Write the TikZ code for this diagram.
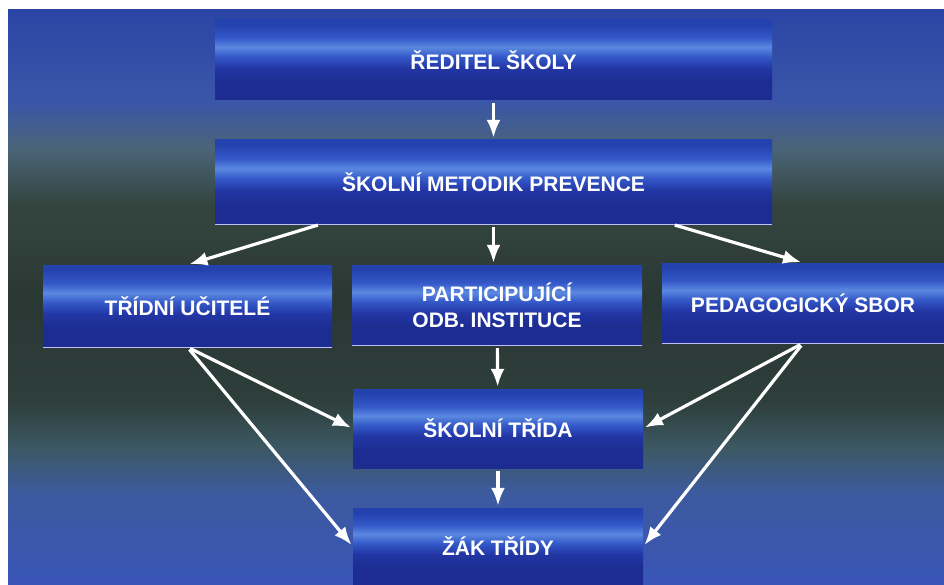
\documentclass[tikz,border=0pt]{standalone}
\usepackage{fontspec}
\setmainfont{Liberation Sans}
\usetikzlibrary{arrows.meta,calc}

\definecolor{bgtop}{HTML}{2B45A5}
\definecolor{bgblue}{HTML}{3A56A8}
\definecolor{bggrey}{HTML}{4A6478}
\definecolor{bgdark}{HTML}{34453F}
\definecolor{bgmid}{HTML}{2A3834}
\definecolor{bglow}{HTML}{2E3E3B}
\definecolor{bgteal}{HTML}{3C5862}
\definecolor{bgsea}{HTML}{3C5A9E}
\definecolor{bgbot}{HTML}{3A55B8}
\definecolor{boxtop}{HTML}{2442AE}
\definecolor{boxmid}{HTML}{3458C8}
\definecolor{boxhi}{HTML}{5A88E0}
\definecolor{boxlow}{HTML}{2236A4}
\definecolor{boxbot}{HTML}{1C2C90}

\pgfdeclareverticalshading{bgshade}{100bp}{color(0bp)=(bgbot); color(25bp)=(bgbot);
  color(33bp)=(bgsea); color(37bp)=(bgteal); color(41bp)=(bglow); color(50bp)=(bgmid);
  color(58bp)=(bgdark); color(63bp)=(bggrey); color(67bp)=(bgblue); color(75bp)=(bgtop);
  color(100bp)=(bgtop)}
\pgfdeclareverticalshading{boxshade}{100bp}{color(0bp)=(boxbot); color(25bp)=(boxbot);
  color(36bp)=(boxbot); color(45bp)=(boxlow); color(52bp)=(boxmid); color(58bp)=(boxhi);
  color(64bp)=(boxmid); color(72bp)=(boxtop); color(75bp)=(boxtop); color(100bp)=(boxtop)}

\begin{document}
\begin{tikzpicture}[x=1pt,y=-1pt,
    unit/.style={shading=boxshade, minimum width=290pt, minimum height=80pt, inner sep=0pt,
      text=white, align=center, font=\fontsize{21}{26}\selectfont\bfseries},
    wide/.style={unit, minimum width=557pt},
    baseline/.style={draw=white!75!blue, line width=1.3pt},
    link/.style={draw=white, line width=3.2pt, -{Latex[length=18pt,width=14pt]},
      shorten <=3pt, shorten >=2pt}]
  \useasboundingbox (0,0) rectangle (944,585);
  \shade[shading=bgshade] (8,10) rectangle (944,585);

  \node[wide, minimum height=80pt] (reditel) at (493.5,60) {ŘEDITEL ŠKOLY};
  \node[wide, minimum height=84pt] (metodik) at (493.5,182) {ŠKOLNÍ METODIK PREVENCE};
  \node[unit, minimum width=289pt, minimum height=82pt] (tridni) at (187.5,306) {TŘÍDNÍ UČITELÉ};
  \node[unit] (particip) at (497,305) {PARTICIPUJÍCÍ\\ODB. INSTITUCE};
  \node[unit, minimum width=282pt] (pedag) at (803,303) {PEDAGOGICKÝ SBOR};
  \node[unit, minimum height=79pt] (trida) at (498,428.5) {ŠKOLNÍ TŘÍDA};
  \node[unit, minimum height=77pt] (zak) at (498,546.5) {ŽÁK TŘÍDY};

  \draw[baseline] (metodik.south west) -- (metodik.south east);
  \draw[baseline] (tridni.south west) -- (tridni.south east);
  \draw[baseline] (particip.south west) -- (particip.south east);
  \draw[baseline] (pedag.south west) -- (pedag.south east);

  \draw[link] (reditel) -- (metodik);
  \draw[link] (metodik.south) -- (metodik.south |- particip.north);
  \draw[link] ($(metodik.south west)!0.19!(metodik.south east)$) -- (tridni.north);
  \draw[link] ($(metodik.south west)!0.82!(metodik.south east)$) -- (pedag.north);
  \draw[link] (particip) -- (trida);
  \draw[link] (trida) -- (zak);
  \draw[link] (tridni.south) -- (trida.west);
  \draw[link] (tridni.south) -- (zak.west);
  \draw[link] (pedag.south) -- (trida.east);
  \draw[link] (pedag.south) -- (zak.east);
\end{tikzpicture}
\end{document}
